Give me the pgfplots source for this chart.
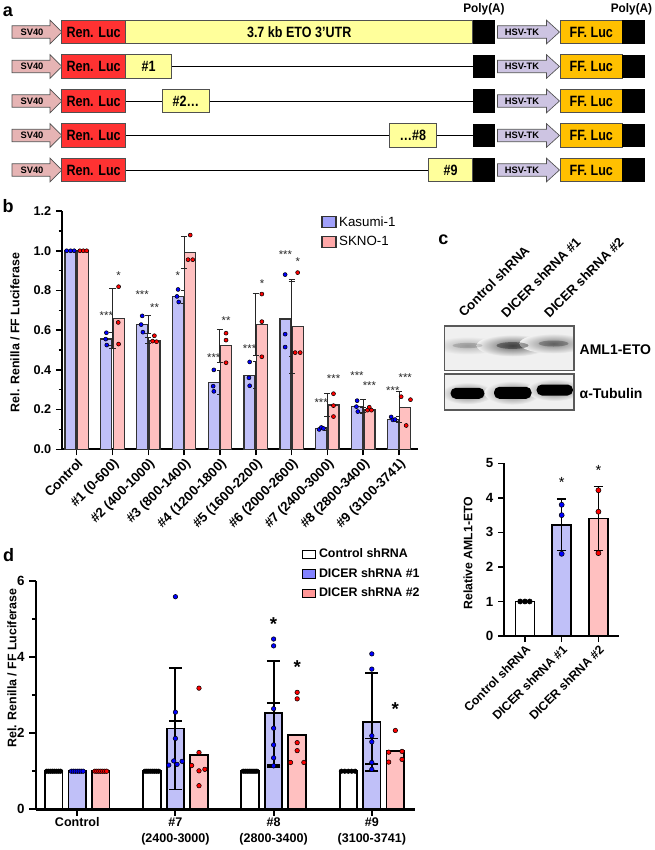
\documentclass[border=0pt]{standalone}
\usepackage{pgfplots}
\pgfplotsset{compat=1.18}
\usepackage{pgfplotstable}
\usepackage{fontspec}
\setmainfont{Liberation Sans}

\definecolor{kasbar}{RGB}{192,192,248}
\definecolor{sknobar}{RGB}{255,192,192}
\definecolor{kasleg}{RGB}{160,160,250}
\definecolor{sknoleg}{RGB}{255,168,168}
\definecolor{dleg1}{RGB}{130,130,255}
\definecolor{dleg2}{RGB}{255,150,150}
\definecolor{svpink}{RGB}{230,180,180}
\definecolor{renred}{RGB}{255,50,50}
\definecolor{utryel}{RGB}{255,255,155}
\definecolor{hsvlav}{RGB}{205,196,226}
\definecolor{fforange}{RGB}{255,192,0}
\definecolor{edge}{RGB}{80,80,80}
\definecolor{blotbg}{RGB}{240,240,240}

\newcommand{\fs}[1]{\fontsize{#1}{#1}\selectfont}

\newcommand{\construct}[1]{%
  \filldraw[draw=edge,fill=svpink,line width=0.5pt] (12,#1-6.2)--(50,#1-6.2)--(50,#1-11.8)--(62,#1)--(50,#1+11.8)--(50,#1+6.2)--(12,#1+6.2)--cycle;
  \node[font=\bfseries\fs{7}] at (32,#1) {SV40};
  \filldraw[draw=edge,fill=renred,line width=0.5pt] (61.5,#1-11.8) rectangle (125.7,#1+11.8);
  \node[font=\bfseries\fs{11.2}] at (93.6,#1) {\scalebox{0.84}[1]{Ren. Luc}};
  \fill[black] (472.7,#1-11.8) rectangle (495,#1+11.8);
  \filldraw[draw=edge,fill=hsvlav,line width=0.5pt] (497.5,#1-6.2)--(546.5,#1-6.2)--(546.5,#1-11.8)--(559.5,#1)--(546.5,#1+11.8)--(546.5,#1+6.2)--(497.5,#1+6.2)--cycle;
  \node[font=\bfseries\fs{7}] at (522,#1) {HSV-TK};
  \filldraw[draw=edge,fill=fforange,line width=0.5pt] (560.3,#1-11.8) rectangle (622.3,#1+11.8);
  \node[font=\bfseries\fs{11.2}] at (591.3,#1) {\scalebox{0.84}[1]{FF. Luc}};
  \fill[black] (622.3,#1-11.8) rectangle (645,#1+11.8);
}
\newcommand{\ubox}[4]{%
  \filldraw[draw=edge,fill=utryel,line width=0.5pt] (#2,#1-11.8) rectangle (#3,#1+11.8);
  \node[font=\bfseries\fs{11.2}] at ({(#2+#3)/2},#1) {\scalebox{0.84}[1]{#4}};
}

\tikzset{
  bst/.style={font=\fs{8.5}, inner sep=0pt, yshift=-1.8pt, text=black!85},
  dst/.style={font=\bfseries\fs{14}, inner sep=0pt, yshift=-3pt},
  cst/.style={font=\fs{11}, inner sep=0pt, yshift=-2.2pt},
}

\pgfplotstableread{
x k ke s se
0 1.000 0.000 1.000 0.000
1 0.555 0.034 0.659 0.149
2 0.628 0.045 0.549 0.014
3 0.768 0.034 0.992 0.080
4 0.336 0.060 0.522 0.083
5 0.373 0.068 0.629 0.155
6 0.656 0.190 0.619 0.235
7 0.104 0.008 0.223 0.060
8 0.215 0.034 0.198 0.012
9 0.151 0.012 0.211 0.078
}\tabB

\pgfplotstableread{
x c ce b be r re
0 1 0 1.00 0.00 1.00 0.00
1 1 0 2.12 1.60 1.42 0.90
2 1 0 2.53 1.36 1.95 0.83
3 1 0 2.29 1.28 1.53 0.33
}\tabD

\begin{document}
\begin{tikzpicture}
\begin{scope}[x=0.75pt,y=-0.75pt]
  % ---------- panel a ----------
  \node[font=\bfseries\fs{13.5}] at (8,12) {a};
  \node[font=\bfseries\fs{9.3}] at (484,9.5) {\scalebox{0.95}[1]{Poly(A)}};
  \node[font=\bfseries\fs{9.3}] at (631.5,9.5) {\scalebox{0.95}[1]{Poly(A)}};
  \construct{32}
  \ubox{32}{125.7}{472.7}{3.7 kb ETO 3’UTR}
  \draw[line width=0.7pt] (171.7,66.5)--(472.7,66.5);
  \construct{66.5}
  \ubox{66.5}{125.7}{171.7}{\#1}
  \draw[line width=0.7pt] (125.7,101)--(472.7,101);
  \construct{101}
  \ubox{101}{162.7}{209}{\#2…}
  \draw[line width=0.7pt] (125.7,135.5)--(472.7,135.5);
  \construct{135.5}
  \ubox{135.5}{389.6}{436}{…\#8}
  \draw[line width=0.7pt] (125.7,170)--(472.7,170);
  \construct{170}
  \ubox{170}{428.3}{472.7}{\#9}

  \node[font=\bfseries\fs{13.5}] at (8,206) {b};
  \node[font=\bfseries\fs{13.5}] at (443.5,240) {c};
  \node[font=\bfseries\fs{13.5}] at (8.5,555) {d};

  % ---------- panel c blot ----------
  \node[font=\bfseries\fs{9.8}, rotate=45, anchor=base west, inner sep=0pt] at (464,318) {Control shRNA};
  \node[font=\bfseries\fs{9.8}, rotate=45, anchor=base west, inner sep=0pt] at (506.5,318.5) {DICER shRNA \#1};
  \node[font=\bfseries\fs{9.8}, rotate=45, anchor=base west, inner sep=0pt] at (549.5,318.5) {DICER shRNA \#2};

  \begin{scope}
    \clip (444.3,326) rectangle (574,370.7);
    \fill[blotbg] (444.3,326) rectangle (574,370.7);
    \shade[inner color=black!30, outer color=blotbg] (467.5,345.5) ellipse (34 and 9);
    \shade[inner color=black!62, outer color=blotbg] (512.5,345.5) ellipse (36 and 11);
    \shade[inner color=black!50, outer color=blotbg] (553.5,343.5) ellipse (34 and 10);
    \fill[black, opacity=0.15] (467.5,345.5) ellipse (15 and 2.6);
    \fill[black, opacity=0.35] (512.5,345.5) ellipse (16 and 3.4);
    \fill[black, opacity=0.25] (553.5,343.5) ellipse (15 and 3);
  \end{scope}
  \draw[black!65, line width=0.8pt] (444.3,326) rectangle (574,370.7);

  \begin{scope}
    \clip (444.3,374) rectangle (574,410);
    \fill[blotbg] (444.3,374) rectangle (574,410);
    \shade[inner color=black!55, outer color=blotbg] (467.5,393.3) ellipse (26 and 11);
    \shade[inner color=black!55, outer color=blotbg] (512.5,392.8) ellipse (28 and 12);
    \shade[inner color=black!55, outer color=blotbg] (554.5,390) ellipse (28 and 11);
    \fill[black, rounded corners=4pt] (450.5,387.8) rectangle (484.5,398.8);
    \fill[black, rounded corners=4pt] (494,386.8) rectangle (531.5,398.8);
    \fill[black, rounded corners=4pt] (536.5,384.5) rectangle (573,395.5);
  \end{scope}
  \draw[black!65, line width=0.8pt] (444.3,374) rectangle (574,410);

  \node[font=\bfseries\fs{10.5}, anchor=west] at (575,349.3) {AML1-ETO};
  \node[font=\bfseries\fs{10.5}, anchor=west] at (575,393.3) {α-Tubulin};
\end{scope}

% ---------- panel b ----------
\begin{axis}[
  at={(46.5pt,-336.98pt)}, anchor=south west,
  scale only axis, width=267pt, height=178.7pt,
  xmin=-0.41, xmax=9.53, ymin=0, ymax=1.2,
  axis lines=left,
  axis line style={-, line width=1.4pt},
  tick align=outside,
  major tick length=4.5pt, minor tick length=2.6pt,
  every major tick/.style={black, line width=1.2pt},
  every minor tick/.style={black, line width=1.0pt},
  xtick={0,1,2,3,4,5,6,7,8,9},
  xticklabels={Control,\#1 (0-600),\#2 (400-1000),\#3 (800-1400),\#4 (1200-1800),\#5 (1600-2200),\#6 (2000-2600),\#7 (2400-3000),\#8 (2800-3400),\#9 (3100-3741)},
  x tick label style={rotate=45, anchor=north east, font=\bfseries\fs{10}, inner sep=1pt},
  ytick={0,0.2,0.4,0.6,0.8,1.0,1.2},
  yticklabels={0.0,0.2,0.4,0.6,0.8,1.0,1.2},
  minor ytick={0.1,0.3,0.5,0.7,0.9,1.1},
  y tick label style={font=\bfseries\fs{9.5}},
  ylabel={Rel. Renilla / FF Luciferase},
  every axis y label/.style={at={(axis description cs:-0.132,0.49)}, rotate=90, anchor=center, font=\bfseries\fs{9.3}},
  clip=false,
  legend cell align=left,
  legend style={at={(axis description cs:0.728,0.99)}, anchor=north west, draw=none, fill=none, font=\fs{10}, row sep=2.2pt, inner sep=0pt},
  legend image code/.code={\draw[line width=0.8pt,#1] (0pt,-3.9pt) rectangle (10.5pt,4pt);},
]
\addlegendimage{draw=black!80, fill=kasleg}
\addlegendentry{Kasumi-1}
\addlegendimage{draw=black!80, fill=sknoleg}
\addlegendentry{SKNO-1}

\addplot[forget plot, ybar, bar width=8.25pt, bar shift=-4.65pt, fill=kasbar, draw=black!80, line width=1.0pt,
  error bars/.cd, y dir=both, y explicit,
  error bar style={line width=0.75pt, black!85},
  error mark options={rotate=90, mark size=2.3pt, line width=0.75pt, black!85}]
  table[x=x, y=k, y error=ke] {\tabB};
\addplot[forget plot, ybar, bar width=8.25pt, bar shift=4.65pt, fill=sknobar, draw=black!80, line width=1.0pt,
  error bars/.cd, y dir=both, y explicit,
  error bar style={line width=0.75pt, black!85},
  error mark options={rotate=90, mark size=2.3pt, line width=0.75pt, black!85}]
  table[x=x, y=s, y error=se] {\tabB};

\addplot[forget plot, only marks, mark=*, mark size=1.5pt, mark options={draw=none, fill=blue}] coordinates {
 (-0.28,1) (-0.17,1) (-0.07,1)
 (0.83,0.587) (0.81,0.555) (0.84,0.525)
 (1.83,0.672) (1.80,0.628) (1.85,0.59)
 (2.83,0.805) (2.80,0.77) (2.85,0.742)
 (3.83,0.40) (3.81,0.318) (3.83,0.292)
 (4.83,0.44) (4.81,0.36) (4.83,0.32)
 (5.82,0.88) (5.82,0.58) (5.82,0.515)
 (6.77,0.10) (6.83,0.11) (6.89,0.105)
 (7.83,0.245) (7.81,0.215) (7.85,0.19)
 (8.78,0.163) (8.83,0.148) (8.89,0.15)
};
\addplot[forget plot, only marks, mark=*, mark size=1.5pt, mark options={draw=none, fill=red}] coordinates {
 (0.09,1) (0.185,1) (0.28,1)
 (1.17,0.819) (1.16,0.639) (1.17,0.53)
 (2.12,0.545) (2.17,0.572) (2.23,0.542)
 (3.17,1.079) (3.11,0.955) (3.24,0.955)
 (4.17,0.585) (4.17,0.55) (4.17,0.436)
 (5.17,0.782) (5.17,0.643) (5.17,0.466)
 (6.17,0.89) (6.10,0.487) (6.24,0.487)
 (7.17,0.28) (7.17,0.22) (7.17,0.165)
 (8.12,0.197) (8.17,0.212) (8.23,0.197)
 (9.06,0.265) (9.32,0.25) (9.2,0.12)
};

\node[bst] at (axis cs:0.827,0.685) {***};
\node[bst] at (axis cs:1.827,0.79) {***};
\node[bst] at (axis cs:2.827,0.889) {*};
\node[bst] at (axis cs:3.827,0.475) {***};
\node[bst] at (axis cs:4.827,0.517) {***};
\node[bst] at (axis cs:5.827,0.995) {***};
\node[bst] at (axis cs:6.827,0.248) {***};
\node[bst] at (axis cs:7.827,0.383) {***};
\node[bst] at (axis cs:8.827,0.307) {***};
\node[bst] at (axis cs:1.173,0.889) {*};
\node[bst] at (axis cs:2.173,0.725) {**};
\node[bst] at (axis cs:4.173,0.66) {**};
\node[bst] at (axis cs:5.173,0.847) {*};
\node[bst] at (axis cs:6.173,0.957) {*};
\node[bst] at (axis cs:7.173,0.37) {***};
\node[bst] at (axis cs:8.173,0.335) {***};
\node[bst] at (axis cs:9.173,0.374) {***};
\end{axis}

% ---------- panel c chart ----------
\begin{axis}[
  at={(378pt,-477pt)}, anchor=south west,
  scale only axis, width=86.25pt, height=129.5pt,
  xmin=-0.57, xmax=2.56, ymin=0, ymax=5,
  axis lines=left,
  axis line style={-, line width=1.4pt},
  tick align=outside,
  major tick length=4.5pt,
  every major tick/.style={black, line width=1.2pt},
  xtick={0,1,2},
  xticklabels={Control shRNA,DICER shRNA \#1,DICER shRNA \#2},
  x tick label style={rotate=45, anchor=north east, font=\bfseries\fs{9.2}, inner sep=1pt},
  ytick={0,1,2,3,4,5}, yticklabels={0,1,2,3,4,5},
  y tick label style={font=\bfseries\fs{10}},
  ylabel={Relative AML1-ETO},
  every axis y label/.style={at={(axis description cs:-0.313,0.48)}, rotate=90, anchor=center, font=\bfseries\fs{9.2}},
  clip=false,
]
\addplot[ybar, bar width=14.25pt, bar shift=0pt, fill=white, draw=black, line width=1.1pt,
  error bars/.cd, y dir=both, y explicit,
  error bar style={line width=1.1pt, black},
  error mark options={rotate=90, mark size=3.6pt, line width=1.1pt, black}]
  coordinates {(0,1.0) +- (0,0)};
\addplot[ybar, bar width=14.25pt, bar shift=0pt, fill=kasbar, draw=black, line width=1.1pt,
  error bars/.cd, y dir=both, y explicit,
  error bar style={line width=1.1pt, black},
  error mark options={rotate=90, mark size=3.6pt, line width=1.1pt, black}]
  coordinates {(1,3.22) +- (0,0.75)};
\addplot[ybar, bar width=14.25pt, bar shift=0pt, fill=sknobar, draw=black, line width=1.1pt,
  error bars/.cd, y dir=both, y explicit,
  error bar style={line width=1.1pt, black},
  error mark options={rotate=90, mark size=3.6pt, line width=1.1pt, black}]
  coordinates {(2,3.40) +- (0,0.93)};
\addplot[only marks, mark=*, mark size=1.9pt, mark options={draw=none, fill=black}] coordinates {(-0.13,1) (0,1) (0.13,1)};
\addplot[only marks, mark=*, mark size=1.9pt, mark options={draw=none, fill=blue}] coordinates {(1,3.8) (1,3.5) (1,2.38)};
\addplot[only marks, mark=*, mark size=1.9pt, mark options={draw=none, fill=red}] coordinates {(2,4.22) (2,3.6) (2,2.4)};
\node[cst] at (axis cs:1,4.52) {*};
\node[cst] at (axis cs:2,4.88) {*};
\end{axis}

% ---------- panel d ----------
\begin{axis}[
  at={(27pt,-606.98pt)}, anchor=south west,
  scale only axis, width=284.25pt, height=171.45pt,
  xmin=-0.42, xmax=3.44, ymin=0, ymax=6,
  axis lines=left,
  axis line style={-, line width=1.8pt},
  tick align=outside,
  major tick length=5pt, minor tick length=3pt,
  every major tick/.style={black, line width=1.5pt},
  every minor tick/.style={black, line width=1.3pt},
  xtick={0,1,2,3},
  xticklabels={Control,{\#7\\(2400-3000)},{\#8\\(2800-3400)},{\#9\\(3100-3741)}},
  x tick label style={align=center, font=\bfseries\fontsize{9.4}{12}\selectfont, inner sep=1pt},
  ytick={0,2,4,6}, yticklabels={0,2,4,6},
  minor ytick={1,3,5},
  y tick label style={font=\bfseries\fs{10}},
  ylabel={Rel. Renilla / FF Luciferase},
  every axis y label/.style={at={(axis description cs:-0.063,0.618)}, rotate=90, anchor=center, font=\bfseries\fs{9.3}},
  clip=false,
  legend cell align=left,
  legend style={at={(axis description cs:0.701,1.152)}, anchor=north west, draw=none, fill=none, font=\bfseries\fs{9.3}, row sep=2.4pt, inner sep=0pt},
  legend image code/.code={\draw[line width=0.8pt,#1] (0pt,-3.2pt) rectangle (10pt,3.2pt);},
]
\addlegendimage{draw=black, fill=white}
\addlegendentry{Control shRNA}
\addlegendimage{draw=black, fill=dleg1}
\addlegendentry{DICER shRNA \#1}
\addlegendimage{draw=black, fill=dleg2}
\addlegendentry{DICER shRNA \#2}

\addplot[forget plot, ybar, bar width=13.1pt, bar shift=-17.6pt, fill=white, draw=black, line width=1.4pt,
  error bars/.cd, y dir=both, y explicit,
  error bar style={line width=1.4pt, black},
  error mark options={rotate=90, mark size=5pt, line width=1.4pt, black}]
  table[x=x, y=c, y error=ce] {\tabD};
\addplot[forget plot, ybar, bar width=13.1pt, bar shift=0pt, fill=kasbar, draw=black, line width=1.4pt,
  error bars/.cd, y dir=both, y explicit,
  error bar style={line width=1.4pt, black},
  error mark options={rotate=90, mark size=5pt, line width=1.4pt, black}]
  table[x=x, y=b, y error=be] {\tabD};
\addplot[forget plot, ybar, bar width=13.1pt, bar shift=17.6pt, fill=sknobar, draw=black, line width=1.4pt,
  error bars/.cd, y dir=both, y explicit,
  error bar style={line width=1.4pt, black},
  error mark options={rotate=90, mark size=5pt, line width=1.4pt, black}]
  table[x=x, y=r, y error=re] {\tabD};

\addplot[forget plot, only marks, mark=*, mark size=1.7pt, mark options={draw=none, fill=black}] coordinates {
 (-0.31,1) (-0.29,1) (-0.27,1) (-0.25,1) (-0.23,1) (-0.21,1) (-0.19,1) (-0.17,1)
 (0.69,1) (0.71,1) (0.73,1) (0.75,1) (0.77,1) (0.79,1) (0.81,1) (0.83,1)
 (1.69,1) (1.71,1) (1.73,1) (1.75,1) (1.77,1) (1.79,1) (1.81,1) (1.83,1)
 (2.69,1) (2.725,1) (2.76,1) (2.795,1) (2.83,1)
};
\addplot[forget plot, only marks, mark=*, mark size=1.7pt, mark options={draw=none, fill=blue}] coordinates {
 (-0.06,1) (-0.04,1) (-0.02,1) (0,1) (0.02,1) (0.04,1) (0.06,1)
 (1,5.58) (1,2.55) (1,1.86) (0.983,1.27) (1.068,1.26) (0.932,1.16) (1.017,1.18)
 (2,4.47) (2,4.29) (2,2.64) (2,2.13) (2,1.69) (2,1.35) (2,1.14)
 (3,4.08) (3,3.68) (3,1.93) (3,1.77) (3,1.23) (3,1.05)
};
\addplot[forget plot, only marks, mark=*, mark size=1.7pt, mark options={draw=none, fill=red}] coordinates {
 (0.18,1) (0.20,1) (0.22,1) (0.24,1) (0.26,1) (0.28,1) (0.30,1)
 (1.24,3.18) (1.24,1.49) (1.165,1.15) (1.30,1.05) (1.24,1.01) (1.24,0.62)
 (2.24,3.07) (2.24,2.90) (2.24,1.75) (2.24,1.54) (2.172,1.23) (2.308,1.23)
 (3.24,2.07) (3.172,1.50) (3.308,1.52) (3.172,1.24) (3.308,1.31)
};
\node[dst] at (axis cs:2,4.97) {*};
\node[dst] at (axis cs:2.24,3.83) {*};
\node[dst] at (axis cs:3.24,2.74) {*};
\end{axis}

\pgfresetboundingbox
\path[use as bounding box] (0,0) rectangle (490.5pt,-637.5pt);
\end{tikzpicture}
\end{document}
